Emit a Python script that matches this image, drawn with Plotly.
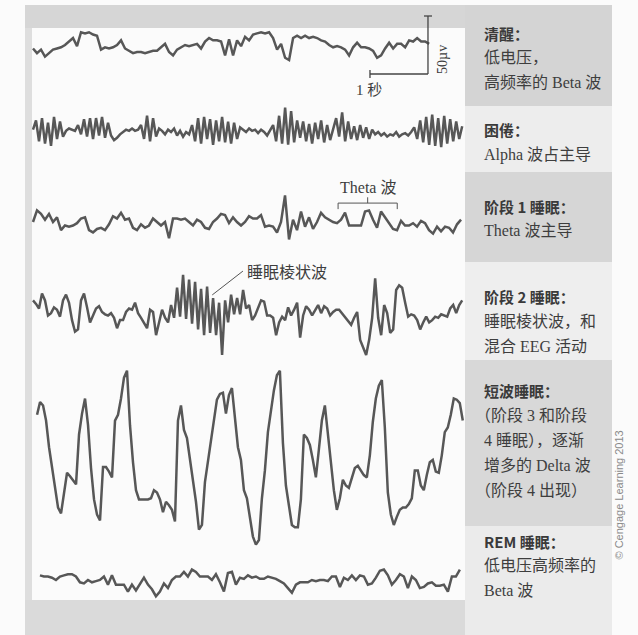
import numpy as np
import plotly.graph_objects as go

W, H = 638, 635

# ---------------- data (EEG samples in µV, evenly spaced in time) ----------------
awake_uv = [-3, -7, -4, -10, -7, -4, -3, -2, 0, 3,
            6, -1, 11, 10, 11, 9, 8, -4, -2, -3,
            -2, 0, 4, -3, -5, -7, -6, -6, -7, -6,
            -5, -5, -2, 1, -6, -9, -4, -2, 0, -1,
            0, 1, -3, 3, 6, 4, 4, 3, -9, 5,
            -9, 4, -1, 7, 4, 9, 10, 11, 10, 11,
            6, -4, 1, -11, -13, 6, 8, 6, 8, 6,
            7, 6, 4, 3, 0, -2, -1, -2, -4, -9,
            -2, 2, -2, -2, -3, -5, -11, -9, -3, 2,
            -3, 1, 1, -2, 4, 3, 6, 3, 3, 1]

drowsy_uv = [2, 10, -8, 12, -10, 8, -12, 13, -6, 9, -4,
             1, 3, 2, 1,
             6, -2, 11, -4, 12, -6, 12, -3, 13, -5, 8,
             -3, -7, -5, -2, 0,
             2, 1, 3, 1, 2,
             6, -6, 14, -8, 12, -4, 3,
             1, -2, 2, 0, 3, -3, 1, -4, 0, -2,
             6, -8, 12, -10, 13, -6, 11, -11, 10, -8, 13, -9, 9, -10, 8, -6, 4,
             2, 0, 3, 1, 2, -1, 2, 0, -3, 1,
             6, -8, 14, -10, 21, -11, 18, -9, 10,
             -5, 9, -8, 7, -10, 8, -6, 10, -9, 6, -7, 3,
             12, -4, 17, -8, 9,
             -6, 5, -7, 6, -5, 4, -6, 2,
             -2, 0, -3, -1, -4, -2, -3, 0, -4, -2, -1, -3, 0,
             4, -6, 10, -9, 13, -11, 15, -12, 12, -13, 14, -10, 11, -8, 9, -6, 5]

stage1_uv = [0, 10, 7, 2, 7, 0, 4, -7, -3, -4,
             -3, -1, 3, 4, -7, -9, -6, -5, -7, -2,
             5, 3, 8, 2, 3, -5, -7, -2, -5, -3,
             3, 0, -3, 0, -14, 3, 3, 2, 3, 0,
             -3, 2, 0, -5, -6, 0, 3, 7, 6, -1,
             4, 0, -3, 0, 5, 3, 3, 6, -4, -3,
             -4, -9, 0, 23, -15, 2, -7, 9, -4, 4,
             -6, 0, 8, 4, 2, 0, -1, 2, 8, -3,
             -3, -3, -3, 9, 10, 2, -5, 9, 4, 0,
             -6, -7, 1, -3, -3, -1, -4, 1, -1, -7,
             -10, -4, -8, -4, -5, -9, -2, 2]

stage2_uv = [10, 7, 3, 16, 10, -3, -1, 4, 2, -4,
             10, 15, 8, -7, -17, -15, 10, 16, 4, -9,
             -3, 3, 5, 0, -2, -3, -1, -5, -14, -7,
             -7, 0, 3, 2, 8, -1, -5, -10, -14, 2,
             0, -20, -9, 2, -5, -9, 6, -5, 21, -4,
             32, -6, 28, -10, 26, -15, 20, -20, 22, -18,
             12, -20, 8, -37, 10, -9, 15, -2, 12, -2,
             19, 3, 6, -7, -3, 3, 10, 9, -3, -3,
             -5, -20, -9, -4, -7, 4, -3, 2, 8, -22,
             -3, 5, 2, -3, 2, 6, -1, 5, 3, -3,
             0, 2, 2, -1, -5, -8, -11, -5, 0, -24,
             -30, -37, -24, -5, 29, -5, -20, 6, -1, -18,
             -15, 19, 23, 21, 8, -4, -2, -3, -7, -15,
             -9, -4, -9, -7, -4, -5, -2, -3, -4, 3,
             6, -1, 6, 10]

sws_uv = [39, 50, 47, 34, 11, -7, -26, -41, -46, -30,
          -11, -14, -18, -21, 22, 40, 53, 30, -7, -34,
          -47, -52, -6, -6, -10, -15, 34, 39, 53, 71,
          77, 30, -2, -26, -34, -34, -34, -34, -33, -26,
          -28, -34, -45, -36, -39, -43, -53, 34, 47, 26,
          19, 0, -19, -36, -60, -56, -19, -2, 15, 34,
          52, 57, 58, 40, 56, 62, 34, 11, 0, -26,
          -33, -50, -66, -73, -69, -33, -9, 24, 43, 60,
          73, 77, 15, -22, -39, -56, -58, -58, -34, 22,
          19, 13, 0, -15, 9, 34, 47, 24, -4, -26,
          -43, -33, -17, -22, -24, -15, -7, -5, -9, -13,
          -15, 4, 33, 53, 64, 69, 28, -28, -47, -56,
          -49, -43, -41, -41, -38, -33, -9, -9, -22, -26,
          -13, -2, 0, -10, -11, 4, 24, 28, 39, 53,
          52, 49, 34]

rem_uv = [4, 3, 3, 2, 0, 3, 4, 5, 5, 3,
          -2, -3, 0, -2, -1, 0, 3, -4, 4, -4,
          -4, -4, -10, -4, -9, -4, 2, -4, -8, -14,
          -10, -3, -7, 0, 3, 3, 7, 3, 9, 7,
          3, 3, 3, 0, 5, -2, -10, 6, 7, -4,
          2, 1, 4, 2, 3, 1, 1, 3, 2, 1,
          -1, -3, -7, -11, -4, -2, -2, -2, 0, -1,
          0, 0, -1, 3, 3, -6, 2, 0, 4, 0,
          4, 3, -4, -3, 2, 8, 9, 4, -4, 0,
          5, 3, -7, 3, 0, -7, -6, -3, -2, -5,
          -5, -4, -10, 3, 3, 9]

# time span (s) covered by each recording
awake_span_s = (0.0, 6.83)
drowsy_span_s = (0.0, 7.40)
stage1_span_s = (0.0, 7.38)
stage2_span_s = (0.0, 7.40)
sws_span_s = (0.07, 7.41)
rem_span_s = (0.12, 7.36)

# calibration bars
scale_bar_uv = 50
scale_bar_s = 1
scale_bar_end_s = 6.81
scale_label_uv = "50µv"
scale_label_s = "1 秒"

# annotations on traces
theta_label = "Theta 波"
theta_window_s = (5.26, 6.28)
spindle_label = "睡眠棱状波"
spindle_point_s = 3.09

# right-hand description text
stage_headings = ["清醒：", "困倦：", "阶段 1 睡眠：", "阶段 2 睡眠：", "短波睡眠：", "REM 睡眠："]
stage_notes = [
    ["低电压，", "高频率的 Beta 波"],
    ["Alpha 波占主导"],
    ["Theta 波主导"],
    ["睡眠棱状波，和", "混合 EEG 活动"],
    ["（阶段 3 和阶段", "4 睡眠），逐渐", "增多的 Delta 波", "（阶段 4 出现）"],
    ["低电压高频率的", "Beta 波"],
]
copyright_text = "© Cengage Learning 2013"

# ---------------- layout constants ----------------
X0_PX = 33
PX_PER_S = 58.0
PX_PER_UV = 58.0 / 50.0
baselines_px = [45, 132, 222, 312, 460, 580]
heading_px = [33, 130, 206, 297, 391, 541]
LINE_GAP = 24.8
TEXT_X = 482
PAREN_SHIFT = 9  # full-width opening bracket carries blank space on its left

TRACE_COLOR = "#575757"
INK = "#3e3e3e"
SERIF = "Liberation Serif, 'Noto Sans CJK SC', serif"
SANS = "'Noto Sans CJK SC', 'Liberation Sans', sans-serif"


def px(x):
    return x / W


def py(y):
    return 1 - y / H


fig = go.Figure()

series = [(awake_uv, awake_span_s), (drowsy_uv, drowsy_span_s), (stage1_uv, stage1_span_s),
          (stage2_uv, stage2_span_s), (sws_uv, sws_span_s), (rem_uv, rem_span_s)]

layout_axes = {}
for k, ((vals, span), yb) in enumerate(zip(series, baselines_px)):
    t = np.linspace(span[0], span[1], len(vals))
    yname = "y" if k == 0 else f"y{k + 1}"
    fig.add_trace(go.Scatter(x=t, y=vals, mode="lines", xaxis="x", yaxis=yname,
                             line=dict(color=TRACE_COLOR, width=2.5, shape="linear"),
                             hoverinfo="skip", showlegend=False))
    ax = dict(domain=[0, 1], range=[-(H - yb) / PX_PER_UV, yb / PX_PER_UV],
              visible=False, fixedrange=True)
    if k:
        ax["overlaying"] = "y"
    layout_axes["yaxis" if k == 0 else f"yaxis{k + 1}"] = ax

shapes = []
# background panels (scanned page look)
panels = [
    (25, 5, 465, 28, "#d6d6d6"),
    (25, 28, 32, 600, "#dedede"),
    (25, 600, 465, 635, "#dadada"),
    (465, 5, 612, 106, "#d4d4d4"),
    (465, 106, 612, 172, "#ededed"),
    (465, 172, 612, 262, "#d6d6d6"),
    (465, 262, 612, 360, "#eeeeee"),
    (465, 360, 612, 526, "#d8d8d8"),
    (465, 526, 612, 635, "#ebebeb"),
]
for x0, y0, x1, y1, c in panels:
    shapes.append(dict(type="rect", xref="paper", yref="paper", x0=px(x0), x1=px(x1),
                       y0=py(y1), y1=py(y0), fillcolor=c, line=dict(width=0), layer="below"))

bar_line = dict(color="#444444", width=1.3)
sb_t1 = scale_bar_end_s
sb_t0 = sb_t1 - scale_bar_s
sb_v0 = -scale_bar_uv / 2
sb_v1 = sb_v0 + scale_bar_uv
tick_s = 4 / PX_PER_S
tick_uv = 4 / PX_PER_UV
shapes += [
    dict(type="line", xref="x", yref="y", x0=sb_t1, x1=sb_t1, y0=sb_v0, y1=sb_v1, line=bar_line),
    dict(type="line", xref="x", yref="y", x0=sb_t0, x1=sb_t1, y0=sb_v0, y1=sb_v0, line=bar_line),
    dict(type="line", xref="x", yref="y", x0=sb_t1 - tick_s, x1=sb_t1 + tick_s, y0=sb_v1, y1=sb_v1, line=bar_line),
    dict(type="line", xref="x", yref="y", x0=sb_t0, x1=sb_t0, y0=sb_v0 - tick_uv, y1=sb_v0 + tick_uv, line=bar_line),
]

# theta bracket on stage-1 trace
th0, th1 = theta_window_s
thm = (th0 + th1) / 2
br_level, br_drop, br_rise = 16.3, 5.2, 5.0
br_line = dict(color="#555", width=1)
shapes += [
    dict(type="line", xref="x", yref="y3", x0=th0, x1=th1, y0=br_level, y1=br_level, line=br_line),
    dict(type="line", xref="x", yref="y3", x0=th0, x1=th0, y0=br_level - br_drop, y1=br_level, line=br_line),
    dict(type="line", xref="x", yref="y3", x0=th1, x1=th1, y0=br_level - br_drop, y1=br_level, line=br_line),
    dict(type="line", xref="x", yref="y3", x0=thm, x1=thm, y0=br_level, y1=br_level + br_rise, line=br_line),
]

# spindle leader line on stage-2 trace
shapes.append(dict(type="line", xref="x", yref="y4", x0=spindle_point_s + 0.53, x1=spindle_point_s,
                   y0=35.3, y1=14.7, line=dict(color="#555", width=1)))

annotations = []
annotations.append(dict(x=sb_t0 - 0.02, y=sb_v0 - 14, xref="x", yref="y", text=scale_label_s,
                        showarrow=False, font=dict(family=SERIF, size=15, color=INK)))
annotations.append(dict(x=sb_t1 + 15 / PX_PER_S, y=(sb_v0 + sb_v1) / 2 - 12, xref="x", yref="y",
                        text=scale_label_uv, textangle=-90, showarrow=False,
                        font=dict(family=SERIF, size=14, color=INK)))
annotations.append(dict(x=thm, y=30, xref="x", yref="y3", text=theta_label, showarrow=False,
                        font=dict(family=SERIF, size=16, color=INK)))
annotations.append(dict(x=spindle_point_s + 0.56, y=35, xref="x", yref="y4", text=spindle_label,
                        showarrow=False, xanchor="left", font=dict(family=SANS, size=16, color=INK)))

for head, notes, hy in zip(stage_headings, stage_notes, heading_px):
    annotations.append(dict(x=px(TEXT_X), y=py(hy), xref="paper", yref="paper", xanchor="left",
                            yanchor="middle", text=f"<b>{head}</b>", showarrow=False,
                            font=dict(family=SANS, size=15, color="#3a3a3a")))
    for i, line in enumerate(notes):
        lx = TEXT_X - (PAREN_SHIFT if line.startswith("（") else 0)
        annotations.append(dict(x=px(lx), y=py(hy + LINE_GAP * (i + 1)), xref="paper", yref="paper",
                                xanchor="left", yanchor="middle", text=line, showarrow=False,
                                font=dict(family=SERIF, size=16, color=INK)))

annotations.append(dict(x=px(626), y=py(562), xref="paper", yref="paper", text=copyright_text,
                        textangle=-90, showarrow=False,
                        font=dict(family="Liberation Sans, Arial, sans-serif", size=11, color="#8a8a8a")))

fig.update_layout(
    width=W, height=H,
    margin=dict(l=0, r=0, t=0, b=0),
    paper_bgcolor="#fbfbfb",
    plot_bgcolor="rgba(0,0,0,0)",
    xaxis=dict(domain=[0, 1], range=[-X0_PX / PX_PER_S, (W - X0_PX) / PX_PER_S],
               visible=False, fixedrange=True),
    shapes=shapes,
    annotations=annotations,
    showlegend=False,
    **layout_axes,
)

fig.write_html("out.html")
